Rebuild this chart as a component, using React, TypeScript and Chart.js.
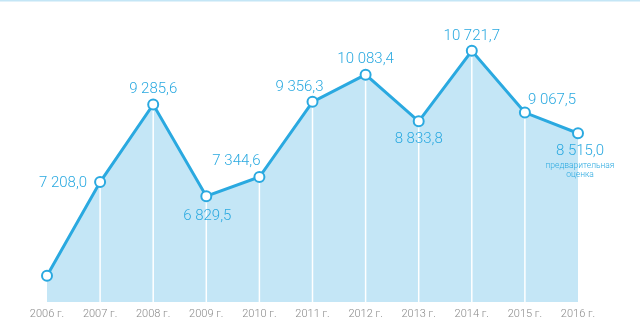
import React, { useEffect, useRef } from "react";
import { Chart, registerables } from "chart.js";

Chart.register(...registerables);

// ---- data ----
const years = ["2006 г.", "2007 г.", "2008 г.", "2009 г.", "2010 г.", "2011 г.", "2012 г.", "2013 г.", "2014 г.", "2015 г.", "2016 г."];
const values = [4700, 7208.0, 9285.6, 6829.5, 7344.6, 9356.3, 10083.4, 8833.8, 10721.7, 9067.5, 8515.0];
const labelled = [false, true, true, true, true, true, true, true, true, true, true];
const noteLines = ["предварительная", "оценка"];
const yMin = 4000;
const yMax = 12000;

// ---- styles / layout ----
const BLUE = "#2aa9e0";
const FILL = "#c4e6f6";
type Place = { dx: number; dy: number; align: CanvasTextAlign };
const placements: (Place | null)[] = [
  null,
  { dx: -13, dy: 1, align: "right" },
  { dx: 0, dy: -15, align: "center" },
  { dx: 1, dy: 20, align: "center" },
  { dx: -23, dy: -16, align: "center" },
  { dx: -13, dy: -15, align: "center" },
  { dx: 0, dy: -15, align: "center" },
  { dx: 0, dy: 18, align: "center" },
  { dx: 0, dy: -15, align: "center" },
  { dx: 3, dy: -12, align: "left" },
  { dx: 2, dy: 18, align: "center" },
];

function fmt(v: number): string {
  const [i, d] = v.toFixed(1).split(".");
  const withSpaces = i.replace(/\B(?=(\d{3})+(?!\d))/g, " ");
  return withSpaces + "," + d;
}

const decorPlugin = {
  id: "decor",
  beforeDraw(chart: any) {
    const ctx = chart.ctx;
    ctx.save();
    ctx.fillStyle = FILL;
    ctx.fillRect(0, 0, chart.width, 1.5);
    ctx.restore();
  },
  beforeDatasetDraw(chart: any) {
    const ctx = chart.ctx;
    const meta = chart.getDatasetMeta(0);
    const bottom = chart.chartArea.bottom;
    ctx.save();
    ctx.strokeStyle = "#ffffff";
    ctx.lineWidth = 1.5;
    meta.data.forEach((pt: any, i: number) => {
      if (i === 0 || i === meta.data.length - 1) return;
      ctx.beginPath();
      ctx.moveTo(pt.x, pt.y);
      ctx.lineTo(pt.x, bottom);
      ctx.stroke();
    });
    ctx.restore();
  },
  afterDatasetsDraw(chart: any) {
    const ctx = chart.ctx;
    const meta = chart.getDatasetMeta(0);
    ctx.save();
    ctx.fillStyle = BLUE;
    ctx.textBaseline = "middle";
    meta.data.forEach((pt: any, i: number) => {
      const p = placements[i];
      if (!p || !labelled[i]) return;
      ctx.font = "300 15px Roboto";
      ctx.textAlign = p.align;
      ctx.fillText(fmt(values[i]), pt.x + p.dx, pt.y + p.dy);
      if (i === values.length - 1) {
        ctx.font = "300 8.5px Roboto";
        ctx.textAlign = "center";
        noteLines.forEach((t, k) => {
          ctx.fillText(t, pt.x + p.dx, pt.y + p.dy + 15 + k * 8.5);
        });
      }
    });
    ctx.restore();
  },
};

export default function App() {
  const ref = useRef<HTMLCanvasElement | null>(null);
  useEffect(() => {
    if (!ref.current) return;
    const chart = new Chart(ref.current, {
      type: "line",
      data: {
        labels: years,
        datasets: [
          {
            data: values,
            borderColor: BLUE,
            borderWidth: 3,
            backgroundColor: FILL,
            fill: "start",
            tension: 0,
            pointRadius: 5,
            pointBorderWidth: 2,
            pointBackgroundColor: "#ffffff",
            pointBorderColor: BLUE,
          },
        ],
      },
      options: {
        responsive: false,
        animation: false,
        events: [],
        layout: { autoPadding: false, padding: { left: 47, right: 62, top: 3, bottom: 0 } },
        plugins: {
          legend: { display: false },
          tooltip: { enabled: false },
          filler: { drawTime: "beforeDatasetsDraw" },
        },
        scales: {
          x: {
            type: "category",
            offset: false,
            grid: { display: false, drawTicks: false },
            border: { display: false },
            afterFit: (scale: any) => {
              scale.height = 18;
            },
            ticks: {
              color: "#8a8a8a",
              font: { family: "Roboto", size: 11, weight: "300", lineHeight: 1 },
              padding: 7,
              maxRotation: 0,
              autoSkip: false,
            },
          },
          y: { display: false, min: yMin, max: yMax },
        },
      },
      plugins: [decorPlugin],
    } as any);
    document.fonts && document.fonts.ready.then(() => chart.update());
    return () => chart.destroy();
  }, []);
  return (
    <div style={{ position: "absolute", left: 0, top: 0, width: 640, height: 320, background: "#fff" }}>
      <canvas ref={ref} width={640} height={320} style={{ width: 640, height: 320, display: "block" }} />
    </div>
  );
}
